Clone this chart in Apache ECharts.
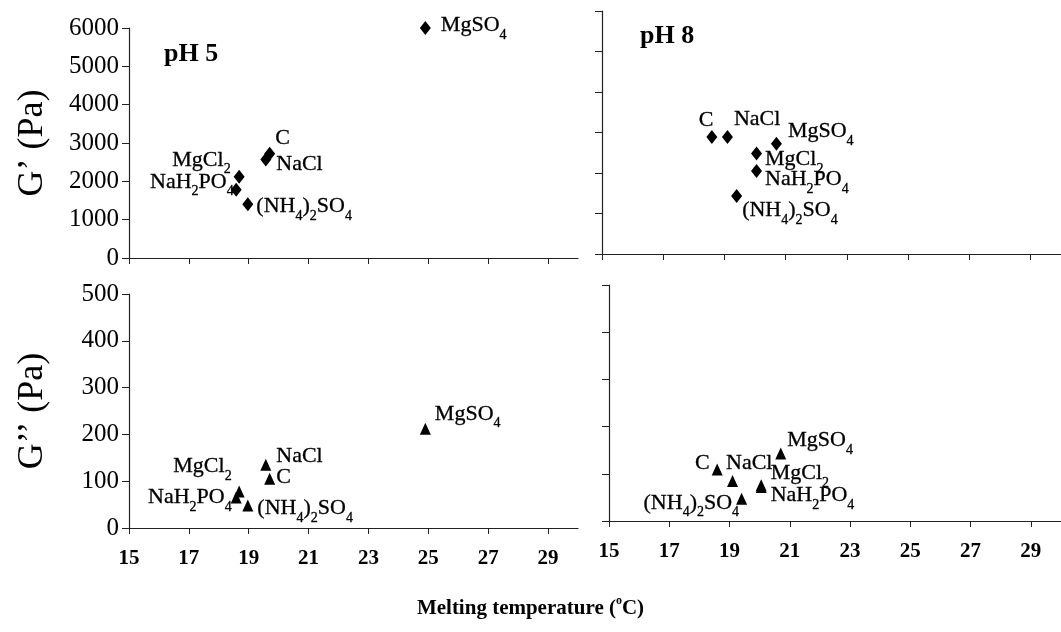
<!DOCTYPE html>
<html>
<head>
<meta charset="utf-8">
<script src="https://cdn.jsdelivr.net/npm/echarts@6/dist/echarts.min.js"></script>
<style>
  html, body { margin: 0; background: #fff; }
  #chart { width: 1061px; height: 632px; }
</style>
</head>
<body>
<div id="chart"></div>
<script>
// salts, same order in every array below
const salts = ['C', 'NaCl', 'MgCl2', 'NaH2PO4', '(NH4)2SO4', 'MgSO4'];

// melting temperature (ºC)
const tempPH5 = [19.7, 19.57, 18.68, 18.58, 18.97, 24.9];
const tempPH8 = [18.59, 19.1, 20.05, 20.05, 19.4, 20.7];

// G' (Pa)
const gPrimePH5 = [2720, 2570, 2120, 1780, 1400, 6000];
const gPrimePH8 = [2890, 2890, 2480, 2050, 1430, 2725];

// G'' (Pa)
const gDoublePH5 = [105, 135, 78, 65, 48, 212];
const gDoublePH8 = [109, 85, 76, 72, 47, 143];

const xTicks = [15, 17, 19, 21, 23, 25, 27, 29];

// label placement per point: [position, distance, dx, dy]
const placeTL = [['right', 0, 0, -13], ['right', 5, 0, 8], ['left', 3, 0, -14],
                 ['left', -3, 0, -5], ['right', 3, 0, 5], ['right', 10, 0, 0]];
const placeTR = [['left', -7, 0, -14], ['right', 1, 0, -15], ['right', 3, 0, 9],
                 ['right', 3, 0, 11], ['right', 0, 0, 17], ['right', 6, 0, -9]];
const placeBL = [['right', 1, 0, 1], ['right', 5, 0, -6], ['left', 2, 0, -22],
                 ['left', -1, 0, 3], ['right', 4, 0, 6], ['right', 4, 0, -12]];
const placeBR = [['left', 2, 0, -3], ['right', 0, -12, -15], ['right', 4, 0, -9],
                 ['right', 4, 0, 11], ['left', -3, 0, 7], ['right', 1, 0, -10]];

const serif = 'Liberation Serif';
const ink = '#000';

// digits become subscripts
function richName(s) {
  return s.replace(/(\d)|([^\d]+)/g, function (m, d, t) {
    return d ? '{s|' + d + '}' : '{n|' + t + '}';
  });
}

const labelRich = {
  n: { fontFamily: serif, fontSize: 22, color: ink, lineHeight: 28, verticalAlign: 'top',
       textBorderColor: '#000', textBorderWidth: 0.3 },
  s: { fontFamily: serif, fontSize: 14, color: ink, lineHeight: 13, verticalAlign: 'bottom',
       textBorderColor: '#000', textBorderWidth: 0.3 }
};

function points(xs, ys, place) {
  return salts.map(function (name, i) {
    const p = place[i];
    return {
      name: name,
      value: [xs[i], ys[i]],
      label: { position: p[0], distance: p[1], offset: [p[2], p[3]] }
    };
  });
}

function scatter(idx, xs, ys, place, symbol, size) {
  return {
    type: 'scatter',
    xAxisIndex: idx,
    yAxisIndex: idx,
    symbol: symbol,
    symbolSize: size,
    itemStyle: { color: '#000', opacity: 1 },
    label: {
      show: true,
      color: ink,
      formatter: function (p) { return richName(p.name); },
      rich: labelRich
    },
    emphasis: { disabled: true },
    data: points(xs, ys, place)
  };
}

const axisLine = { show: true, onZero: false, lineStyle: { color: '#222', width: 1.2 } };

function xAxisFor(idx, showLabels) {
  return {
    type: 'value', gridIndex: idx, min: 15, max: 30,
    axisLine: axisLine,
    axisTick: { show: true, length: 6, customValues: xTicks, lineStyle: { color: '#222' } },
    axisLabel: {
      show: showLabels, customValues: xTicks, margin: 20,
      fontFamily: serif, fontWeight: 'bold', fontSize: 21, color: ink
    },
    splitLine: { show: false }
  };
}

function yAxisFor(idx, max, interval, showLabels, name) {
  return {
    type: 'value', gridIndex: idx, min: 0, max: max, interval: interval,
    name: name, nameLocation: 'middle', nameGap: 78, nameRotate: 90,
    nameTextStyle: { fontFamily: serif, fontSize: 36, color: ink },
    axisLine: axisLine,
    axisTick: { show: true, length: 7, lineStyle: { color: '#222' } },
    axisLabel: {
      show: showLabels, margin: 10, fontFamily: serif, fontSize: 25, color: ink,
      formatter: function (v) { return String(v); }
    },
    splitLine: { show: false }
  };
}

const chart = echarts.init(document.getElementById('chart'), null, { renderer: 'canvas' });

chart.setOption({
  animation: false,
  backgroundColor: '#fff',
  grid: [
    { left: 129, top: 28, width: 449, height: 230 },
    { left: 602, top: 11, width: 462, height: 243 },
    { left: 129, top: 294, width: 449, height: 234 },
    { left: 609, top: 285, width: 455, height: 236 }
  ],
  xAxis: [xAxisFor(0, false), xAxisFor(1, false), xAxisFor(2, true), xAxisFor(3, true)],
  yAxis: [
    yAxisFor(0, 6000, 1000, true, 'G\u2019 (Pa)'),
    yAxisFor(1, 6000, 1000, false, ''),
    yAxisFor(2, 500, 100, true, 'G\u2019\u2019 (Pa)'),
    yAxisFor(3, 500, 100, false, '')
  ],
  title: {
    text: '{b|Melting temperature (}{o|o}{b|C)}',
    left: 'center',
    top: 590,
    textStyle: {
      rich: {
        b: { fontFamily: serif, fontWeight: 'bold', fontSize: 21, color: ink, lineHeight: 24, verticalAlign: 'bottom' },
        o: { fontFamily: serif, fontWeight: 'bold', fontSize: 12, color: ink, lineHeight: 24, verticalAlign: 'top' }
      }
    }
  },
  graphic: [
    { type: 'text', left: 164, top: 41, style: { text: 'pH 5', font: 'bold 26px "Liberation Serif"', fill: ink } },
    { type: 'text', left: 640, top: 23, style: { text: 'pH 8', font: 'bold 26px "Liberation Serif"', fill: ink } }
  ],
  series: [
    scatter(0, tempPH5, gPrimePH5, placeTL, 'diamond', [11, 14]),
    scatter(1, tempPH8, gPrimePH8, placeTR, 'diamond', [11, 14]),
    scatter(2, tempPH5, gDoublePH5, placeBL, 'triangle', [11, 12]),
    scatter(3, tempPH8, gDoublePH8, placeBR, 'triangle', [11, 12])
  ]
});
</script>
</body>
</html>
